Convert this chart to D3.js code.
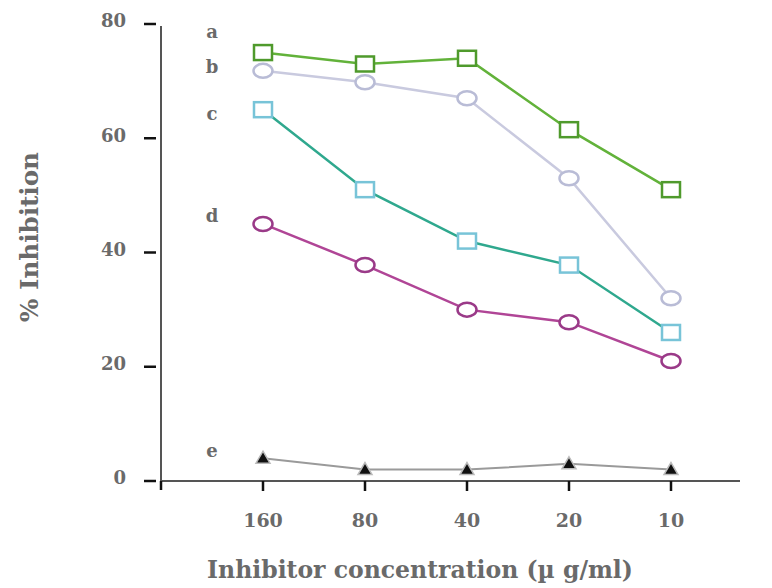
<!DOCTYPE html>
<html><head><meta charset="utf-8">
<script src="https://cdn.jsdelivr.net/npm/d3@7"></script>
<style>body{margin:0;background:#fff}svg{display:block}</style>
</head><body>
<svg id="c" width="772" height="588"></svg>
<script>
const categories = ["160", "80", "40", "20", "10"];
const yTicks = [0, 20, 40, 60, 80];
const seriesA = [75, 73, 74, 61.5, 51];
const seriesB = [71.8, 69.8, 67, 53, 32];
const seriesC = [65, 51, 42, 37.8, 26];
const seriesD = [45, 37.8, 30, 27.8, 21];
const seriesE = [4, 2, 2, 3, 2];
const seriesNames = ["a", "b", "c", "d", "e"];
const labelValues = [78.7, 72.5, 64.3, 46.4, 5.4];

const styles = [
  {line: "#62b23a", stroke: "#4f9a2c", shape: "square", fill: "#fff"},
  {line: "#c9cadf", stroke: "#b9bcd6", shape: "circle", fill: "#fff"},
  {line: "#2fa88e", stroke: "#78c4d8", shape: "square", fill: "#fff"},
  {line: "#b04596", stroke: "#9a3a88", shape: "circle", fill: "#fff"},
  {line: "#9a9a9a", stroke: "#888", shape: "triangle", fill: "#111"}
];
const allValues = [seriesA, seriesB, seriesC, seriesD, seriesE];

const svg = d3.select("#c");
const font = "'DejaVu Serif', 'Liberation Serif', serif";
const textColor = "#6a6a6a";

const x = d3.scaleLinear().domain([-1, 4]).range([161, 671]);
const y = d3.scaleLinear().domain([0, 80]).range([481, 24]);

function fitText(sel, target) {
  const n = sel.node();
  const w = n.getComputedTextLength();
  const fs = parseFloat(sel.attr("font-size"));
  sel.attr("font-size", fs * target / w);
}

// axes lines
svg.append("line").attr("x1", 161).attr("x2", 740).attr("y1", y(0)).attr("y2", y(0))
  .attr("stroke", "#555").attr("stroke-width", 2);
svg.append("line").attr("x1", 161).attr("x2", 161).attr("y1", y(80) + 2).attr("y2", y(0) + 1)
  .attr("stroke", "#555").attr("stroke-width", 2);

// y ticks
const yg = svg.append("g");
yTicks.forEach(t => {
  yg.append("line").attr("x1", 144).attr("x2", 156).attr("y1", y(t)).attr("y2", y(t))
    .attr("stroke", "#111").attr("stroke-width", 2.5);
  yg.append("text").attr("x", 126).attr("y", y(t) - 3).attr("dy", "0.36em")
    .attr("text-anchor", "end").attr("font-family", font).attr("font-weight", "bold")
    .attr("font-size", 18).attr("fill", textColor).text(t);
});

// x ticks
categories.forEach((c, i) => {
  svg.append("line").attr("x1", x(i)).attr("x2", x(i)).attr("y1", y(0)).attr("y2", y(0) + 10)
    .attr("stroke", "#111").attr("stroke-width", 2.5);
  svg.append("text").attr("x", x(i)).attr("y", 527).attr("text-anchor", "middle")
    .attr("font-family", font).attr("font-weight", "bold").attr("font-size", 19)
    .attr("fill", textColor).text(c);
});
svg.append("line").attr("x1", 161).attr("x2", 161).attr("y1", y(0)).attr("y2", y(0) + 9)
  .attr("stroke", "#111").attr("stroke-width", 2.5);

// titles
const xt = svg.append("text").attr("x", 420).attr("y", 578).attr("text-anchor", "middle")
  .attr("font-family", font).attr("font-weight", "bold").attr("font-size", 22)
  .attr("fill", textColor).text("Inhibitor concentration (\u00b5 g/ml)");
fitText(xt, 426);
const yt = svg.append("text").attr("transform", "translate(38,237) rotate(-90)").attr("text-anchor", "middle")
  .attr("font-family", font).attr("font-weight", "bold").attr("font-size", 21)
  .attr("fill", textColor).text("% Inhibition");
fitText(yt, 170);

// series
const lineGen = d3.line().x((d, i) => x(i)).y(d => y(d));
allValues.forEach((vals, si) => {
  const st = styles[si];
  const g = svg.append("g");
  g.append("path").attr("d", lineGen(vals)).attr("fill", "none")
    .attr("stroke", st.line).attr("stroke-width", si === 4 ? 2 : 2.5);
  vals.forEach((v, i) => {
    const cx = x(i), cy = y(v);
    if (st.shape === "square") {
      g.append("rect").attr("x", cx - 9).attr("y", cy - 7.5).attr("width", 18).attr("height", 15)
        .attr("fill", st.fill).attr("stroke", st.stroke).attr("stroke-width", 2.5);
    } else if (st.shape === "circle") {
      g.append("ellipse").attr("cx", cx).attr("cy", cy).attr("rx", 9.5).attr("ry", 7)
        .attr("fill", st.fill).attr("stroke", st.stroke).attr("stroke-width", 2.5);
    } else {
      g.append("path").attr("d", `M${cx},${cy - 7}L${cx + 7},${cy + 5}L${cx - 7},${cy + 5}Z`)
        .attr("fill", st.fill).attr("stroke", "#bbb").attr("stroke-width", 1.5);
    }
  });
  svg.append("text").attr("x", 212).attr("y", y(labelValues[si])).attr("dy", "0.36em")
    .attr("text-anchor", "middle").attr("font-family", font).attr("font-weight", "bold")
    .attr("font-size", 18).attr("fill", textColor).text(seriesNames[si]);
});
</script>
</body></html>
